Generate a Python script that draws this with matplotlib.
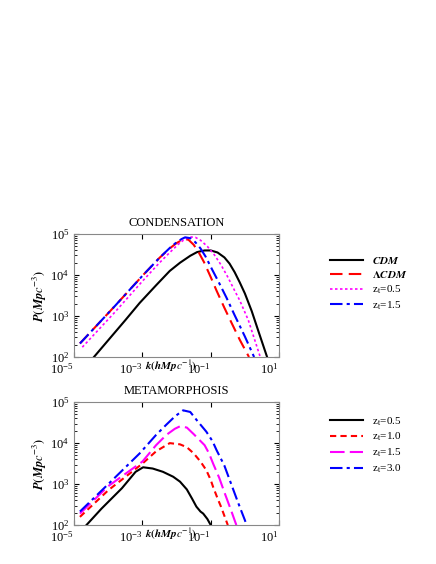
import matplotlib
matplotlib.use("Agg")
import matplotlib.pyplot as plt
import numpy as np

plt.rcParams['font.family'] = ['Liberation Serif', 'DejaVu Serif']
plt.rcParams['mathtext.fontset'] = 'stix'

# log10 k, log10 P
cdm_k = [-4.42, -3.5, -3.08, -2.6, -2.2, -1.9, -1.6, -1.4, -1.18, -1.0, -0.8, -0.6, -0.45, -0.3, -0.15, 0.0, 0.2, 0.4, 0.65]
cdm_p = [2.0, 2.9, 3.32, 3.75, 4.1, 4.3, 4.47, 4.56, 4.6, 4.6, 4.55, 4.43, 4.28, 4.07, 3.82, 3.55, 3.12, 2.62, 2.0]
lcdm_k = [-4.83, -3.8, -2.98, -2.5, -2.2, -2.0, -1.85, -1.76, -1.65, -1.5, -1.35, -1.2, -1.0, -0.83, -0.6, -0.4, -0.15, 0.12]
lcdm_p = [2.33, 3.25, 4.0, 4.42, 4.65, 4.78, 4.85, 4.88, 4.86, 4.74, 4.55, 4.32, 3.95, 3.62, 3.2, 2.85, 2.42, 2.0]
z05_k = [-4.76, -3.8, -3.0, -2.5, -2.2, -1.95, -1.8, -1.61, -1.45, -1.3, -1.1, -0.9, -0.7, -0.5, -0.3, -0.15, 0.1, 0.45]
z05_p = [2.24, 3.1, 3.85, 4.3, 4.55, 4.75, 4.85, 4.93, 4.92, 4.85, 4.7, 4.5, 4.25, 3.95, 3.62, 3.38, 2.9, 2.0]
z15_k = [-4.83, -3.8, -2.98, -2.5, -2.2, -2.0, -1.85, -1.75, -1.6, -1.45, -1.3, -1.15, -0.95, -0.75, -0.54, -0.3, 0.0, 0.27]
z15_p = [2.33, 3.25, 4.0, 4.42, 4.66, 4.8, 4.88, 4.92, 4.9, 4.8, 4.65, 4.45, 4.12, 3.8, 3.45, 3.02, 2.5, 2.0]

m3_k = [-4.83, -4.0, -3.08, -2.6, -2.3, -2.05, -1.81, -1.6, -1.4, -1.13, -0.95, -0.83, -0.6, -0.4, -0.2, 0.0, 0.05]
m3_p = [2.33, 3.0, 3.75, 4.2, 4.45, 4.65, 4.80, 4.76, 4.55, 4.28, 4.05, 3.83, 3.45, 3.0, 2.55, 2.12, 2.0]
m15_k = [-4.83, -4.0, -3.0, -2.6, -2.3, -2.05, -1.9, -1.7, -1.5, -1.18, -1.05, -0.93, -0.75, -0.6, -0.4, -0.25]
m15_p = [2.28, 2.95, 3.55, 3.95, 4.2, 4.35, 4.41, 4.38, 4.22, 3.95, 3.75, 3.5, 3.15, 2.8, 2.35, 2.0]
m10_k = [-4.83, -4.0, -3.0, -2.6, -2.2, -1.9, -1.7, -1.5, -1.3, -1.13, -1.0, -0.93, -0.8, -0.7, -0.5]
m10_p = [2.2, 2.85, 3.5, 3.8, 4.0, 3.97, 3.9, 3.75, 3.55, 3.34, 3.1, 2.93, 2.65, 2.45, 2.0]
m05_k = [-4.64, -4.2, -3.6, -3.2, -2.98, -2.7, -2.4, -2.1, -1.9, -1.7, -1.55, -1.42, -1.3, -1.22, -1.1, -1.0]
m05_p = [2.0, 2.4, 2.9, 3.3, 3.41, 3.38, 3.3, 3.18, 3.06, 2.87, 2.65, 2.45, 2.33, 2.28, 2.15, 2.0]

fig = plt.figure(figsize=(4.36, 5.64), dpi=100)
ax1 = fig.add_axes([0.170, 0.367, 0.470, 0.218])
ax2 = fig.add_axes([0.170, 0.069, 0.470, 0.218])

def L(k, p):
    return 10**np.array(k), 10**np.array(p)

ax1.plot(*L(cdm_k, cdm_p), color='black', lw=1.5, label=r'$\boldsymbol{CDM}$')
ax1.plot(*L(lcdm_k, lcdm_p), color='red', lw=1.5, ls=(0, (6, 3)), label=r'$\boldsymbol{\Lambda CDM}$')
ax1.plot(*L(z05_k, z05_p), color='magenta', lw=1.2, ls=(0, (1.5, 1.5)), label=r'z$_{\rm t}$=0.5')
ax1.plot(*L(z15_k, z15_p), color='blue', lw=1.5, ls=(0, (6, 2, 1.5, 2)), label=r'z$_{\rm t}$=1.5')

ax2.plot(*L(m05_k, m05_p), color='black', lw=1.5, label=r'z$_{\rm t}$=0.5')
ax2.plot(*L(m10_k, m10_p), color='red', lw=1.5, ls=(0, (3, 2)), label=r'z$_{\rm t}$=1.0')
ax2.plot(*L(m15_k, m15_p), color='magenta', lw=1.5, ls=(0, (7, 2.5)), label=r'z$_{\rm t}$=1.5')
ax2.plot(*L(m3_k, m3_p), color='blue', lw=1.5, ls=(0, (6, 2, 1.5, 2)), label=r'z$_{\rm t}$=3.0')

for ax, title in [(ax1, 'CONDENSATION'), (ax2, 'METAMORPHOSIS')]:
    ax.set_xscale('log'); ax.set_yscale('log')
    ax.set_xlim(1e-5, 10); ax.set_ylim(1e2, 1e5)
    ax.set_xticks([1e-5, 1e-3, 1e-1, 1e1])
    ax.set_yticks([1e2, 1e3, 1e4, 1e5])
    ax.tick_params(which='both', direction='in', top=True, right=True, labelsize=9)
    for lab in ax.get_xticklabels():
        lab.set_horizontalalignment('right')
    ax.set_title(title, fontsize=9, pad=6)
    ax.set_ylabel(r'$\boldsymbol{P(Mpc^{-3})}$', fontsize=9, labelpad=1)
    for s in ax.spines.values():
        s.set_color('#888888')
    ax.text(0.47, -0.075, r'$\boldsymbol{k(hMpc^{-1})}$', transform=ax.transAxes,
            ha='center', va='center', fontsize=8)
    ax.legend(loc='center left', bbox_to_anchor=(1.2, 0.6 if ax is ax1 else 0.65),
              frameon=False, fontsize=8, handlelength=3, labelspacing=0.3)

fig.savefig('out.png', dpi=100)
